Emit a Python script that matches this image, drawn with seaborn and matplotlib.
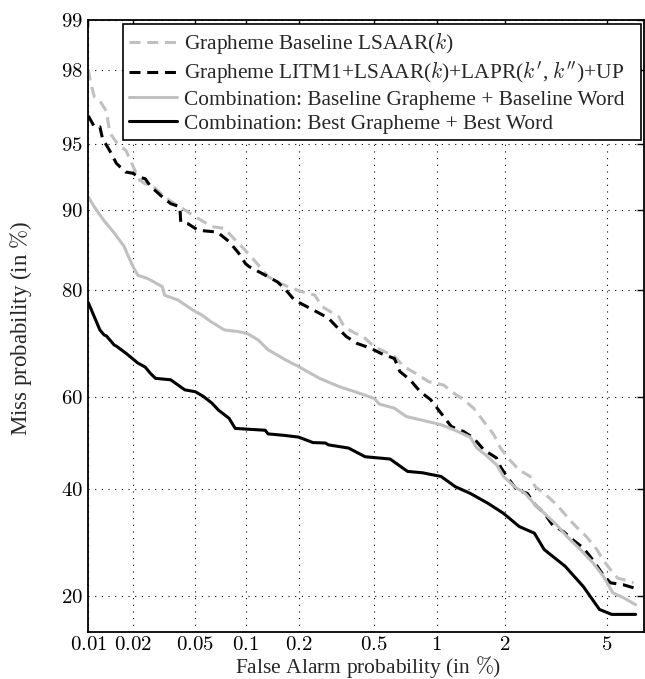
import matplotlib
matplotlib.use("Agg")
import matplotlib.pyplot as plt
import numpy as np
import pandas as pd
import seaborn as sns
from statistics import NormalDist

# DET curves (false alarm / miss probability in %)

# Grapheme Baseline LSAAR(k)
fa_base = [0.01, 0.0103, 0.011, 0.012, 0.0133, 0.014, 0.0155, 0.018, 0.02, 0.022,
           0.024, 0.027, 0.032, 0.037, 0.043, 0.048, 0.063, 0.075, 0.085, 0.095,
           0.103, 0.112, 0.135, 0.153, 0.175, 0.21, 0.245, 0.27, 0.33, 0.35,
           0.4, 0.44, 0.5, 0.63, 0.7, 0.8, 0.92, 1.08, 1.2, 1.33,
           1.47, 1.63, 1.8, 1.92, 2.1, 2.3, 2.55, 2.67, 2.9, 3.25,
           3.65, 3.85, 4.2, 4.6, 4.85, 5.15, 5.45, 6.05, 6.2]
miss_base = [98.0, 97.7, 97.15, 97.0, 96.6, 95.6, 95.1, 94.6, 93.6, 92.6,
             92.3, 92.1, 91.2, 90.6, 90.0, 89.5, 88.3, 88.1, 87.0, 86.0,
             85.2, 84.3, 82.0, 81.2, 80.5, 79.7, 79.2, 77.3, 75.6, 73.9,
             72.7, 72.1, 70.2, 68.3, 66.3, 64.9, 63.2, 62.5, 60.8, 59.4,
             57.6, 54.7, 51.8, 48.9, 46.3, 44.1, 42.7, 40.5, 39.1, 36.7,
             33.6, 32.3, 30.4, 27.9, 26.0, 24.3, 22.9, 22.3, 22.1]

# Grapheme LITM1+LSAAR(k)+LAPR(k',k'')+UP
fa_litm = [0.01, 0.011, 0.012, 0.0125, 0.014, 0.0155, 0.0178, 0.02, 0.022, 0.024,
           0.026, 0.031, 0.035, 0.04, 0.0405, 0.045, 0.052, 0.068, 0.08, 0.091,
           0.1, 0.105, 0.13, 0.153, 0.17, 0.19, 0.24, 0.29, 0.32, 0.36,
           0.41, 0.48, 0.54, 0.63, 0.67, 0.75, 0.84, 0.94, 1.05, 1.17,
           1.33, 1.47, 1.63, 1.85, 1.92, 2.04, 2.25, 2.48, 2.67, 2.9,
           3.13, 3.45, 3.75, 4.1, 4.45, 4.85, 5.15, 5.7, 6.2]
miss_litm = [96.4, 95.9, 95.9, 95.3, 94.6, 93.8, 93.2, 93.1, 92.8, 92.7,
             92.1, 91.2, 90.6, 90.3, 88.8, 88.6, 87.9, 87.7, 86.6, 85.2,
             83.8, 83.4, 82.2, 81.2, 80.0, 78.4, 76.8, 75.4, 73.9, 72.1,
             70.8, 69.9, 68.9, 67.9, 65.3, 63.6, 61.1, 59.4, 56.5, 53.6,
             52.5, 51.1, 48.5, 46.7, 44.8, 42.7, 39.8, 39.1, 36.7, 35.0,
             32.6, 31.3, 29.7, 28.2, 26.0, 23.4, 22.1, 21.8, 21.3]

# Combination: Baseline Grapheme + Baseline Word
fa_comb_base = [0.01, 0.011, 0.0127, 0.015, 0.0175, 0.0182, 0.02, 0.0215, 0.025, 0.031,
                0.032, 0.039, 0.048, 0.055, 0.062, 0.075, 0.091, 0.103, 0.118, 0.135,
                0.17, 0.2, 0.26, 0.33, 0.42, 0.5, 0.53, 0.63, 0.72, 0.95,
                1.05, 1.2, 1.42, 1.52, 1.66, 1.85, 1.98, 2.2, 2.43, 2.67,
                2.9, 3.25, 3.55, 4.0, 4.45, 4.85, 5.25, 5.75, 6.3]
miss_comb_base = [91.2, 90.3, 89.0, 87.6, 86.0, 85.2, 83.4, 82.2, 81.7, 80.5,
                  79.2, 78.4, 76.8, 75.9, 74.8, 73.3, 73.0, 72.6, 71.5, 69.6,
                  67.6, 66.3, 63.9, 62.2, 60.8, 59.7, 58.5, 57.6, 55.8, 54.5,
                  54.0, 52.9, 51.3, 48.9, 47.4, 45.2, 42.7, 40.5, 39.1, 36.7,
                  35.0, 32.6, 30.4, 27.9, 25.5, 23.2, 20.5, 19.7, 18.7]

# Combination: Best Grapheme + Best Word
fa_comb_best = [0.01, 0.0105, 0.012, 0.0128, 0.0133, 0.015, 0.0155, 0.018, 0.0215, 0.024,
                0.026, 0.028, 0.035, 0.039, 0.043, 0.05, 0.056, 0.063, 0.069, 0.08,
                0.087, 0.13, 0.135, 0.165, 0.2, 0.24, 0.28, 0.29, 0.37, 0.45,
                0.6, 0.73, 0.86, 1.05, 1.22, 1.42, 1.7, 1.97, 2.3, 2.65,
                2.9, 3.5, 4.1, 4.7, 5.2, 6.3]
miss_comb_best = [78.0, 76.8, 73.3, 72.4, 72.2, 70.5, 70.3, 68.9, 67.0, 66.2,
                  64.9, 63.9, 63.6, 62.5, 61.5, 61.1, 60.1, 58.7, 57.2, 55.4,
                  53.2, 52.8, 52.0, 51.7, 51.3, 50.1, 50.0, 49.6, 48.9, 47.0,
                  46.5, 43.8, 43.5, 42.7, 40.5, 39.1, 37.0, 35.0, 32.3, 31.0,
                  27.9, 24.9, 21.5, 18.0, 17.3, 17.3]

labels = [
    r"Grapheme Baseline LSAAR($k$)",
    r"Grapheme LITM1+LSAAR($k$)+LAPR($k'$, $k''$)+UP",
    "Combination: Baseline Grapheme + Baseline Word",
    "Combination: Best Grapheme + Best Word",
]

x_ticks = [0.01, 0.02, 0.05, 0.1, 0.2, 0.5, 1, 2, 5]
x_tick_labels = ["0.01", "0.02", "0.05", "0.1", "0.2", "0.5", "1", "2", "5"]
y_ticks = [20, 40, 60, 80, 90, 95, 98, 99]
y_tick_labels = ["20", "40", "60", "80", "90", "95", "98", "99"]
x_range = [0.01, 6.7]
y_range = [15, 99]


def probit(pct):
    nd = NormalDist()
    return np.array([nd.inv_cdf(p / 100.0) for p in pct])


sns.set_theme(style="white")
plt.rcParams["font.family"] = ["Liberation Serif", "DejaVu Serif"]
plt.rcParams["mathtext.fontset"] = "cm"

fig = plt.figure(figsize=(6.45, 6.79), dpi=100)
ax = fig.add_axes([88.3 / 645, 1 - 631.5 / 679, (643.5 - 88.3) / 645, (631.5 - 20) / 679])

gray = "#c0c0c0"
series = [
    (fa_base, miss_base, gray, (0, (3.6, 2.2))),
    (fa_litm, miss_litm, "black", (0, (3.6, 2.2))),
    (fa_comb_base, miss_comb_base, gray, "-"),
    (fa_comb_best, miss_comb_best, "black", "-"),
]

for (fa, miss, col, ls), lab in zip(series, labels):
    df = pd.DataFrame({"fa": probit(fa), "miss": probit(miss)})
    sns.lineplot(data=df, x="fa", y="miss", ax=ax, color=col, linestyle=ls,
                 linewidth=2.2, sort=False, estimator=None, label=lab)

ax.set_xlim(probit(x_range))
ax.set_ylim(probit(y_range))
ax.set_xticks(probit(x_ticks))
ax.set_xticklabels(["$" + t + "$" for t in x_tick_labels])
ax.set_yticks(probit(y_ticks))
ax.set_yticklabels(["$" + t + "$" for t in y_tick_labels])
ax.tick_params(direction="in", top=True, right=True, length=5, width=1,
               labelsize=15, colors="black")
ax.tick_params(axis="x", pad=3)
ax.tick_params(axis="y", pad=4)
ax.grid(True, color="black", linestyle=(0, (1, 5)), linewidth=0.8)
for sp in ax.spines.values():
    sp.set_color("black")
    sp.set_linewidth(1.3)

ax.set_xlabel("")
ax.set_ylabel("")
fig.text(368 / 645, 1 - 673.5 / 679, r"False Alarm probability (in $\%$)",
         ha="center", va="baseline", fontsize=15.5)
fig.text(21 / 645, 1 - 328.5 / 679, r"Miss probability (in $\%$)",
         ha="center", va="center", rotation=90, fontsize=16.5)

leg = ax.legend(loc="upper left", bbox_to_anchor=(0.062, 0.5, 0.9335, 0.4935),
                mode="expand", borderaxespad=0,
                fontsize=15.4, handlelength=2.25, handletextpad=0.32, labelspacing=0.17,
                borderpad=0.3, fancybox=False, framealpha=1, edgecolor="black")
leg.get_frame().set_linewidth(1.2)

fig.savefig("out.png", dpi=100)
